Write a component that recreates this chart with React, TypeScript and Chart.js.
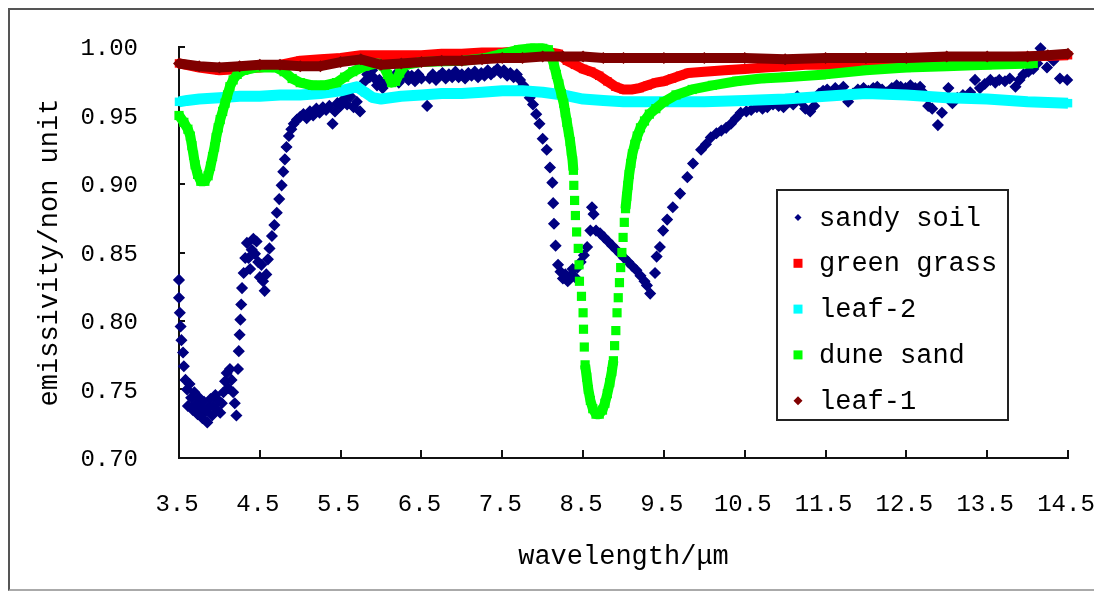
import React, { useEffect, useRef } from 'react';
import { Chart, registerables } from 'chart.js';

Chart.register(...registerables);

// ---------- data ----------
const X_TICKS = [3.5, 4.5, 5.5, 6.5, 7.5, 8.5, 9.5, 10.5, 11.5, 12.5, 13.5, 14.5];
const Y_TICKS = [0.7, 0.75, 0.8, 0.85, 0.9, 0.95, 1.0];
const SERIES_NAMES = ['sandy soil', 'green grass', 'leaf-2', 'dune sand', 'leaf-1'];
const X_TITLE = 'wavelength/μm';
const Y_TITLE = 'emissivity/non unit';

const SANDY_X = [
  3.50, 3.50, 3.51, 3.52, 3.53, 3.55, 3.56, 3.58, 3.60, 3.61, 3.63, 3.65, 3.67, 3.69, 3.71, 3.73, 3.75, 3.77, 3.79, 3.81,
  3.83, 3.85, 3.87, 3.89, 3.91, 3.93, 3.95, 3.97, 3.99, 4.01, 4.03, 4.05, 4.07, 4.09, 4.11, 4.13, 4.15, 4.17, 4.19, 4.21,
  4.23, 4.24, 4.25, 4.26, 4.27, 4.28, 4.30, 4.32, 4.34, 4.36, 4.38, 4.40, 4.42, 4.44, 4.46, 4.48, 4.50, 4.52, 4.54, 4.56,
  4.58, 4.60, 4.62, 4.65, 4.68, 4.71, 4.74, 4.77, 4.79, 4.81, 4.83, 4.86, 4.89, 4.92, 4.96, 5.00, 5.04, 5.08, 5.12, 5.16,
  5.20, 5.24, 5.28, 5.32, 5.36, 5.40, 5.43, 5.46, 5.50, 5.54, 5.58, 5.62, 5.66, 5.70, 5.74, 5.77, 5.80, 5.83, 5.86, 5.89,
  5.92, 5.95, 5.98, 6.02, 6.06, 6.10, 6.14, 6.18, 6.22, 6.26, 6.30, 6.34, 6.38, 6.42, 6.46, 6.50, 6.57, 6.60, 6.64, 6.68,
  6.72, 6.76, 6.80, 6.84, 6.88, 6.92, 6.96, 7.00, 7.04, 7.08, 7.12, 7.16, 7.20, 7.24, 7.28, 7.32, 7.36, 7.40, 7.44, 7.48,
  7.52, 7.56, 7.60, 7.64, 7.68, 7.72, 7.76, 7.80, 7.84, 7.88, 7.92, 7.96, 8.00, 8.05, 8.09, 8.12, 8.13, 8.14, 8.16, 8.19,
  8.22, 8.25, 8.28, 8.31, 8.34, 8.37, 8.40, 8.43, 8.47, 8.51, 8.55, 8.59, 8.61, 8.63, 8.66, 8.71, 8.76, 8.81, 8.86, 8.91,
  8.96, 9.01, 9.06, 9.11, 9.16, 9.21, 9.26, 9.29, 9.33, 9.39, 9.41, 9.45, 9.49, 9.54, 9.61, 9.70, 9.79, 9.86, 9.96, 10.02,
  10.08, 10.15, 10.21, 10.27, 10.33, 10.39, 10.45, 10.52, 10.58, 10.65, 10.72, 10.78, 10.85, 10.92, 10.98, 11.05, 11.10, 11.15, 11.20, 11.25,
  11.31, 11.36, 11.42, 11.47, 11.52, 11.57, 11.62, 11.67, 11.72, 11.78, 11.84, 11.90, 11.97, 12.03, 12.09, 12.14, 12.20, 12.26, 12.32, 12.38,
  12.43, 12.49, 12.55, 12.61, 12.67, 12.72, 12.77, 12.82, 12.89, 12.94, 13.02, 13.07, 13.13, 13.20, 13.29, 13.35, 13.41, 13.47, 13.54, 13.60,
  13.65, 13.72, 13.78, 13.85, 13.90, 13.95, 14.01, 14.07, 14.12, 14.16, 14.24, 14.32, 14.36, 14.40, 14.49,
];
const SANDY_Y = [
  0.830, 0.817, 0.806, 0.796, 0.786, 0.777, 0.767, 0.757, 0.750, 0.738, 0.754, 0.744, 0.735, 0.748, 0.740, 0.732, 0.744, 0.737, 0.729, 0.741,
  0.734, 0.726, 0.737, 0.743, 0.731, 0.738, 0.746, 0.735, 0.742, 0.733, 0.740, 0.748, 0.756, 0.762, 0.751, 0.765, 0.757, 0.748, 0.740, 0.731,
  0.765, 0.778, 0.790, 0.801, 0.812, 0.824, 0.835, 0.846, 0.857, 0.846, 0.838, 0.852, 0.860, 0.849, 0.858, 0.843, 0.832, 0.841, 0.829, 0.822,
  0.834, 0.845, 0.853, 0.862, 0.870, 0.879, 0.889, 0.899, 0.909, 0.918, 0.927, 0.935, 0.940, 0.944, 0.947, 0.949, 0.951, 0.948, 0.953, 0.950,
  0.955, 0.952, 0.956, 0.954, 0.957, 0.944, 0.953, 0.959, 0.957, 0.962, 0.958, 0.964, 0.956, 0.960, 0.953, 0.968, 0.975, 0.980, 0.978, 0.983,
  0.977, 0.972, 0.976, 0.970, 0.975, 0.979, 0.976, 0.980, 0.974, 0.978, 0.981, 0.976, 0.979, 0.975, 0.980, 0.977, 0.957, 0.977, 0.980, 0.976,
  0.979, 0.981, 0.977, 0.980, 0.978, 0.982, 0.978, 0.980, 0.977, 0.981, 0.979, 0.982, 0.978, 0.981, 0.979, 0.983, 0.980, 0.982, 0.984, 0.981,
  0.983, 0.979, 0.981, 0.978, 0.980, 0.976, 0.972, 0.968, 0.963, 0.958, 0.951, 0.944, 0.933, 0.925, 0.912, 0.901, 0.886, 0.871, 0.855, 0.841,
  0.836, 0.831, 0.834, 0.829, 0.833, 0.838, 0.832, 0.839, 0.843, 0.848, 0.854, 0.866, 0.883, 0.878, 0.866, 0.864, 0.861, 0.858, 0.855, 0.852,
  0.849, 0.846, 0.843, 0.840, 0.837, 0.833, 0.829, 0.826, 0.820, 0.835, 0.847, 0.854, 0.866, 0.874, 0.883, 0.893, 0.905, 0.915, 0.925, 0.929,
  0.934, 0.937, 0.939, 0.941, 0.944, 0.948, 0.952, 0.953, 0.954, 0.956, 0.955, 0.956, 0.958, 0.957, 0.956, 0.960, 0.958, 0.964, 0.960, 0.955,
  0.953, 0.957, 0.966, 0.968, 0.969, 0.967, 0.970, 0.968, 0.971, 0.960, 0.966, 0.969, 0.970, 0.968, 0.970, 0.971, 0.969, 0.967, 0.970, 0.972,
  0.971, 0.970, 0.972, 0.970, 0.971, 0.966, 0.957, 0.955, 0.943, 0.952, 0.970, 0.959, 0.963, 0.965, 0.967, 0.976, 0.970, 0.973, 0.976, 0.974,
  0.976, 0.975, 0.977, 0.971, 0.976, 0.980, 0.982, 0.984, 0.988, 0.999, 0.985, 0.990, 0.993, 0.977, 0.976,
];

const GRASS_X = [
  3.5, 3.75, 4.0, 4.25, 4.5, 4.75, 5.0, 5.25, 5.5, 5.75, 6.0, 6.25, 6.5, 6.75, 7.0, 7.25, 7.5, 7.75, 8.0, 8.2,
  8.3, 8.4, 8.5, 8.6, 8.7, 8.8, 8.9, 9.0, 9.1, 9.2, 9.3, 9.4, 9.5, 9.6, 9.7, 9.8, 10.0, 10.25, 10.5, 10.75,
  11.0, 11.25, 11.5, 11.75, 12.0, 12.5, 13.0, 13.5, 14.0, 14.5,
];
const GRASS_Y = [
  0.988, 0.985, 0.983, 0.984, 0.985, 0.987, 0.990, 0.991, 0.992, 0.994, 0.994, 0.994, 0.994, 0.995, 0.995, 0.996, 0.996, 0.997, 0.997, 0.995,
  0.990, 0.987, 0.984, 0.982, 0.979, 0.975, 0.971, 0.969, 0.969, 0.970, 0.972, 0.974, 0.975, 0.977, 0.979, 0.981, 0.982, 0.983, 0.984, 0.985,
  0.986, 0.987, 0.987, 0.988, 0.988, 0.990, 0.991, 0.992, 0.993, 0.994,
];

const LEAF2_X = [
  3.5, 3.6, 3.75, 4.0, 4.25, 4.5, 4.75, 5.0, 5.25, 5.5, 5.7, 5.8, 5.9, 6.0, 6.25, 6.5, 6.75, 7.0, 7.25, 7.5,
  7.75, 8.0, 8.25, 8.5, 8.75, 9.0, 9.5, 10.0, 10.5, 11.0, 11.5, 12.0, 12.5, 13.0, 13.5, 14.0, 14.5,
];
const LEAF2_Y = [
  0.960, 0.961, 0.962, 0.963, 0.964, 0.964, 0.965, 0.965, 0.966, 0.968, 0.971, 0.967, 0.963, 0.962, 0.964, 0.965, 0.966, 0.966, 0.967, 0.968,
  0.968, 0.967, 0.965, 0.962, 0.961, 0.960, 0.960, 0.960, 0.961, 0.962, 0.964, 0.966, 0.965, 0.963, 0.962, 0.960, 0.959,
];

const DUNE_X = [
  3.5, 3.56, 3.61, 3.64, 3.66, 3.68, 3.7, 3.73, 3.77, 3.82, 3.86, 3.89, 3.915, 3.94, 3.96, 3.985, 4.01, 4.04, 4.07, 4.1,
  4.13, 4.17, 4.22, 4.3, 4.45, 4.7, 4.8, 4.9, 5.0, 5.15, 5.3, 5.45, 5.55, 5.65, 5.8, 5.95, 6.03, 6.08, 6.13, 6.18,
  6.23, 6.3, 6.5, 7.0, 7.3, 7.5, 7.7, 7.85, 8.0, 8.07, 8.11, 8.14, 8.17, 8.2, 8.23, 8.26, 8.28, 8.3, 8.32, 8.34,
  8.355, 8.37, 8.38, 8.385, 8.395, 8.405, 8.42, 8.44, 8.45, 8.455, 8.48, 8.5, 8.505, 8.515, 8.525, 8.545, 8.565, 8.59, 8.62, 8.66,
  8.7, 8.74, 8.77, 8.8, 8.83, 8.855, 8.875, 8.89, 8.905, 8.92, 8.935, 8.95, 8.965, 8.98, 8.995, 9.01, 9.025, 9.04, 9.055, 9.07,
  9.09, 9.11, 9.14, 9.17, 9.21, 9.26, 9.32, 9.4, 9.5, 9.65, 9.85, 10.1, 10.4, 10.7, 11.0, 11.5, 12.0, 12.5, 13.0, 13.5,
  14.07,
];
const DUNE_Y = [
  0.950, 0.945, 0.940, 0.935, 0.928, 0.921, 0.914, 0.907, 0.902, 0.902, 0.906, 0.913, 0.920, 0.927, 0.934, 0.941, 0.947, 0.953, 0.959, 0.965,
  0.971, 0.976, 0.980, 0.983, 0.985, 0.985, 0.982, 0.977, 0.974, 0.972, 0.972, 0.974, 0.978, 0.982, 0.986, 0.988, 0.986, 0.980, 0.974, 0.975,
  0.981, 0.987, 0.989, 0.990, 0.992, 0.995, 0.998, 0.999, 0.999, 0.998, 0.993, 0.987, 0.980, 0.973, 0.966, 0.959, 0.952, 0.945, 0.938, 0.931,
  0.924, 0.917, 0.910, 0.899, 0.888, 0.877, 0.865, 0.853, 0.841, 0.829, 0.818, 0.806, 0.794, 0.781, 0.768, 0.759, 0.750, 0.742, 0.736, 0.732,
  0.732, 0.735, 0.740, 0.747, 0.755, 0.763, 0.771, 0.782, 0.793, 0.806, 0.817, 0.828, 0.839, 0.850, 0.861, 0.872, 0.882, 0.891, 0.899, 0.907,
  0.915, 0.922, 0.929, 0.935, 0.941, 0.946, 0.951, 0.955, 0.960, 0.965, 0.969, 0.972, 0.975, 0.977, 0.978, 0.980, 0.983, 0.985, 0.986, 0.987,
  0.988,
];

const LEAF1_X = [
  3.5, 3.75, 4.0, 4.25, 4.5, 4.75, 5.0, 5.25, 5.5, 5.75, 6.0, 6.25, 6.5, 6.75, 7.0, 7.25, 7.5, 7.75, 8.0, 8.25,
  8.5, 8.75, 9.0, 9.5, 10.0, 10.5, 11.0, 11.5, 12.0, 12.5, 13.0, 13.5, 14.0, 14.25, 14.5,
];
const LEAF1_Y = [
  0.988, 0.986, 0.985, 0.986, 0.987, 0.987, 0.986, 0.986, 0.989, 0.991, 0.987, 0.988, 0.989, 0.990, 0.990, 0.991, 0.992, 0.992, 0.993, 0.993,
  0.993, 0.992, 0.992, 0.992, 0.992, 0.992, 0.991, 0.992, 0.992, 0.992, 0.993, 0.993, 0.993, 0.994, 0.995,
];

// ---------- styling ----------
const FONT = "'Liberation Mono', 'DejaVu Sans Mono', monospace";
const NAVY = '#000080';
const RED = '#FF0000';
const CYAN = '#00FFFF';
const LIME = '#00FF00';
const MAROON = '#800000';

const xy = (xs: number[], ys: number[]) => xs.map((x, i) => ({ x, y: ys[i] }));

const inwardTicks = {
  id: 'inwardTicks',
  beforeDatasetsDraw(chart: any) {
    const { ctx, chartArea } = chart;
    const xs = chart.scales.x;
    const ys = chart.scales.y;
    ctx.save();
    ctx.strokeStyle = '#111';
    ctx.lineWidth = 2;
    ctx.beginPath();
    X_TICKS.forEach((v) => {
      if (v === xs.min) return;
      const px = Math.round(xs.getPixelForValue(v));
      ctx.moveTo(px, chartArea.bottom);
      ctx.lineTo(px, chartArea.bottom - 8);
    });
    Y_TICKS.forEach((v) => {
      if (v === ys.min) return;
      const py = Math.round(ys.getPixelForValue(v));
      ctx.moveTo(chartArea.left, py);
      ctx.lineTo(chartArea.left + 6, py);
    });
    ctx.stroke();
    ctx.restore();
  },
};

const boxLegend = {
  id: 'boxLegend',
  afterDatasetsDraw(chart: any) {
    const { ctx, chartArea } = chart;
    const L = chartArea.left + 598;
    const T = chartArea.top + 143;
    const W = 231;
    const H = 230;
    ctx.save();
    ctx.fillStyle = '#fff';
    ctx.fillRect(L, T, W, H);
    ctx.lineWidth = 2;
    ctx.strokeStyle = '#222';
    ctx.strokeRect(L, T, W, H);
    ctx.font = `27px ${FONT}`;
    ctx.textBaseline = 'middle';
    chart.data.datasets.forEach((ds: any, i: number) => {
      const cy = T + 27.5 + i * 45.8;
      const cx = L + 21;
      ctx.fillStyle = ds.backgroundColor;
      if (ds.pointStyle === 'rectRot') {
        const r = i === 0 ? 3.5 : 4.5;
        ctx.beginPath();
        ctx.moveTo(cx - r, cy);
        ctx.lineTo(cx, cy - r);
        ctx.lineTo(cx + r, cy);
        ctx.lineTo(cx, cy + r);
        ctx.closePath();
        ctx.fill();
      } else {
        ctx.fillRect(cx - 4.5, cy - 4.5, 9, 9);
      }
      ctx.fillStyle = '#000';
      ctx.fillText(ds.label, L + 42, cy + 1);
    });
    ctx.restore();
  },
};

export default function App() {
  const ref = useRef<HTMLCanvasElement | null>(null);

  useEffect(() => {
    if (!ref.current) return;
    const lineCommon = {
      showLine: true,
      clip: false,
      borderJoinStyle: 'round',
      borderCapStyle: 'butt',
      pointBorderWidth: 0,
    };
    const chart = new Chart(ref.current, {
      type: 'scatter',
      data: {
        datasets: [
          {
            label: SERIES_NAMES[0],
            data: xy(SANDY_X, SANDY_Y),
            showLine: false,
            clip: false,
            pointStyle: 'rectRot',
            pointRadius: 5,
            pointBorderWidth: 1.5,
            backgroundColor: NAVY,
            borderColor: NAVY,
            order: 5,
          },
          {
            ...lineCommon,
            label: SERIES_NAMES[1],
            data: xy(GRASS_X, GRASS_Y),
            pointStyle: 'rect',
            pointRadius: 6,
            borderWidth: 10,
            backgroundColor: RED,
            borderColor: RED,
            order: 4,
          },
          {
            ...lineCommon,
            label: SERIES_NAMES[2],
            data: xy(LEAF2_X, LEAF2_Y),
            pointStyle: 'rect',
            pointRadius: 6,
            borderWidth: 11,
            backgroundColor: CYAN,
            borderColor: CYAN,
            order: 3,
          },
          {
            ...lineCommon,
            label: SERIES_NAMES[3],
            data: xy(DUNE_X, DUNE_Y),
            pointStyle: 'rect',
            pointRadius: 6.5,
            borderWidth: 10,
            backgroundColor: LIME,
            borderColor: LIME,
            segment: {
              borderColor: (c: any) =>
                Math.abs(c.p1.y - c.p0.y) > 13 ? 'rgba(0,0,0,0)' : LIME,
            },
            order: 2,
          },
          {
            ...lineCommon,
            label: SERIES_NAMES[4],
            data: xy(LEAF1_X, LEAF1_Y),
            pointStyle: 'rectRot',
            pointRadius: 6,
            borderWidth: 10,
            backgroundColor: MAROON,
            borderColor: MAROON,
            order: 1,
          },
        ] as any,
      },
      options: {
        animation: false,
        responsive: false,
        devicePixelRatio: 1,
        events: [],
        layout: { padding: { left: 0, top: 37, right: 31, bottom: 0 } },
        plugins: {
          legend: { display: false },
          tooltip: { enabled: false },
        },
        scales: {
          x: {
            type: 'linear',
            min: 3.5,
            max: 14.5,
            afterBuildTicks: (s: any) => {
              s.ticks = X_TICKS.map((value) => ({ value }));
            },
            afterFit: (s: any) => {
              s.height = 131;
              s.paddingLeft = 0;
              s.paddingRight = 0;
            },
            grid: { display: false, drawTicks: false, drawOnChartArea: false },
            border: { display: true, color: '#111', width: 2 },
            ticks: {
              autoSkip: false,
              maxRotation: 0,
              padding: 32,
              labelOffset: -2,
              color: '#000',
              font: { family: FONT, size: 24 },
              callback: (v: any) => Number(v).toFixed(1),
            },
            title: {
              display: true,
              text: X_TITLE,
              color: '#000',
              font: { family: FONT, size: 27 },
              padding: { top: 0, bottom: 16 },
            },
          },
          y: {
            type: 'linear',
            min: 0.7,
            max: 1.0,
            afterBuildTicks: (s: any) => {
              s.ticks = Y_TICKS.map((value) => ({ value }));
            },
            afterFit: (s: any) => {
              s.width = 169;
              s.paddingTop = 0;
              s.paddingBottom = 0;
            },
            grid: { display: false, drawTicks: false, drawOnChartArea: false },
            border: { display: true, color: '#111', width: 2 },
            ticks: {
              autoSkip: false,
              padding: 41,
              labelOffset: 2,
              color: '#000',
              font: { family: FONT, size: 24 },
              callback: (v: any) => Number(v).toFixed(2),
            },
            title: {
              display: true,
              text: Y_TITLE,
              color: '#000',
              font: { family: FONT, size: 27 },
              padding: { top: 24, bottom: 0 },
            },
          },
        },
      } as any,
      plugins: [inwardTicks, boxLegend],
    });
    return () => chart.destroy();
  }, []);

  return (
    <div
      style={{
        width: 1093,
        height: 583,
        boxSizing: 'border-box',
        borderStyle: 'solid',
        borderWidth: 2,
        borderColor: '#555 #555 #aaa #555',
        background: '#fff',
      }}
    >
      <canvas ref={ref} width={1089} height={579} style={{ display: 'block' }} />
    </div>
  );
}
